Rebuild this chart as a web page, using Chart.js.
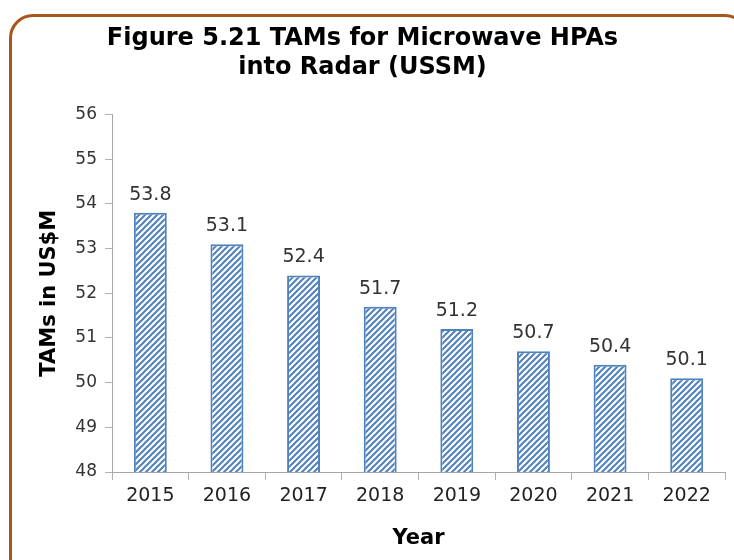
<!DOCTYPE html>
<html lang="en">
<head>
<meta charset="UTF-8">
<title>TAMs for Microwave HPAs into Radar</title>
<style>
  body { margin: 0; width: 734px; height: 560px; overflow: hidden; background: #fff; position: relative; }
  #frame { position: absolute; left: 9px; top: 14px; width: 740px; height: 600px;
           border: 3px solid #a9561c; border-radius: 24px; box-sizing: border-box; }
  #wrap { position: absolute; left: 0; top: 0; width: 734px; height: 560px; }
</style>
</head>
<body>
<div id="frame"></div>
<div id="wrap"><canvas id="myChart" width="734" height="560"></canvas></div>
<script src="https://cdn.jsdelivr.net/npm/chart.js"></script>
<script>
const years = ['2015', '2016', '2017', '2018', '2019', '2020', '2021', '2022']
const tams = [53.8, 53.1, 52.4, 51.7, 51.2, 50.7, 50.4, 50.1]
const yMin = 48
const yMax = 56

const blue = '#4f81bd'

// diagonal hatch like the office chart fill
function hatch() {
  const c = document.createElement('canvas')
  c.width = 6; c.height = 6
  const g = c.getContext('2d')
  g.fillStyle = '#fff'
  g.fillRect(0, 0, 6, 6)
  g.strokeStyle = blue
  g.lineWidth = 2
  g.beginPath()
  g.moveTo(-1, 7); g.lineTo(7, -1)
  g.moveTo(-4, 4); g.lineTo(4, -4)
  g.moveTo(2, 10); g.lineTo(10, 2)
  g.stroke()
  return g.createPattern(c, 'repeat')
}

const valueLabels = {
  id: 'valueLabels',
  afterDatasetsDraw(chart) {
    const ctx = chart.ctx
    ctx.save()
    ctx.font = '19px "DejaVu Sans"'
    ctx.fillStyle = '#333'
    ctx.textAlign = 'center'
    ctx.textBaseline = 'alphabetic'
    chart.getDatasetMeta(0).data.forEach((bar, i) => {
      ctx.fillText(tams[i].toFixed(1), bar.x, bar.y - 13)
    })
    ctx.restore()
  }
}

new Chart(document.querySelector('#myChart'), {
  type: 'bar',
  data: {
    labels: years,
    datasets: [{
      data: tams,
      backgroundColor: hatch(),
      borderColor: blue,
      borderWidth: 2,
      barPercentage: 0.43,
      categoryPercentage: 1
    }]
  },
  options: {
    responsive: false,
    animation: false,
    layout: { padding: { left: 0, right: 9, top: 0, bottom: 0 } },
    plugins: {
      legend: { display: false },
      tooltip: { enabled: false },
      title: {
        display: true,
        text: ['Figure 5.21 TAMs for Microwave HPAs', 'into Radar (USSM)'],
        color: '#000',
        font: { family: 'DejaVu Sans', size: 24, weight: 'bold', lineHeight: 1.22 },
        padding: { top: 24, bottom: 32 }
      }
    },
    scales: {
      x: {
        grid: { drawOnChartArea: false, offset: true, tickLength: 8, color: '#b0b0b0' },
        border: { color: '#a6a6a6' },
        ticks: { color: '#222', font: { family: 'DejaVu Sans', size: 19 }, padding: 5 },
        title: { display: true, text: 'Year', color: '#000', font: { family: 'DejaVu Sans', size: 21, weight: 'bold' }, padding: { top: 6, bottom: 9 } },
        afterFit(s) { s.height = 88 }
      },
      y: {
        min: yMin,
        max: yMax,
        grid: { drawOnChartArea: false, tickLength: 7, color: '#b0b0b0' },
        border: { color: '#a6a6a6' },
        ticks: { stepSize: 1, color: '#333', font: { family: 'DejaVu Sans', size: 17 }, padding: 8 },
        title: { display: true, text: 'TAMs in US$M', color: '#000', font: { family: 'DejaVu Sans', size: 21, weight: 'bold' }, padding: { top: 37 } },
        afterFit(s) { s.width = 112 }
      }
    }
  },
  plugins: [valueLabels]
})
</script>
</body>
</html>
